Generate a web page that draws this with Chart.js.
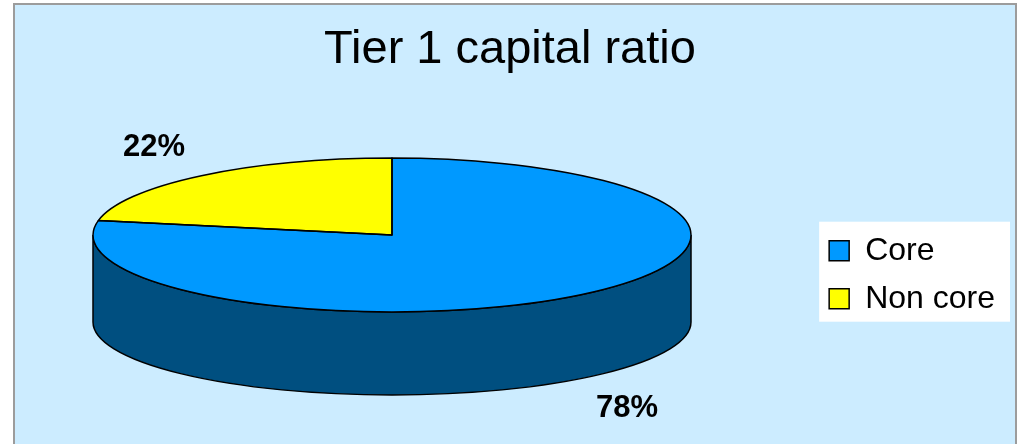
<!DOCTYPE html>
<html>
<head>
<meta charset="utf-8">
<title>Tier 1 capital ratio</title>
<script src="https://cdn.jsdelivr.net/npm/chart.js@4.4.1/dist/chart.umd.min.js"></script>
<style>
html, body { margin: 0; padding: 0; background: #fff; }
canvas { display: block; }
</style>
</head>
<body>
<canvas id="myChart" width="1020" height="444"></canvas>
<script>
var labels = ['Core', 'Non core'];
var values = [78, 22];
var topColors = ['#0099FF', '#FFFF00'];
var sideColors = ['#004F80', '#808000'];

Chart.defaults.font.family = '"Liberation Sans", Arial, sans-serif';
Chart.defaults.color = '#000';

// draws the pie as a tilted disc: squashes the library's arcs into an ellipse
// and adds the extruded side underneath
var pie3d = {
    id: 'pie3d',
    beforeDraw: function (chart, args, o) {
        var ctx = chart.ctx;
        ctx.save();
        ctx.fillStyle = '#CCECFF';
        ctx.fillRect(14, 4, 1002, 450);
        ctx.strokeStyle = '#9C9C9C';
        ctx.lineWidth = 2;
        ctx.strokeRect(14, 4, 1002, 450);

        // white panel behind the legend
        var lg = chart.legend;
        var hb = lg.legendHitBoxes;
        if (hb && hb.length) {
            var left = hb[0].left - 10;
            var top = hb[0].top - 13;
            var right = lg.right + 5;
            var last = hb[hb.length - 1];
            ctx.fillStyle = '#FFFFFF';
            ctx.fillRect(left, top, right - left, last.top + last.height + 7 - top);
        }
        ctx.restore();
    },
    beforeDatasetsDraw: function (chart, args, o) {
        var ctx = chart.ctx;
        var arcs = chart.getDatasetMeta(0).data;

        // side of the disc, only the front half is visible
        ctx.save();
        ctx.lineWidth = 1.5;
        ctx.strokeStyle = '#000';
        arcs.forEach(function (arc, i) {
            var p = arc.getProps(['startAngle', 'endAngle'], true);
            for (var k = -1; k <= 1; k++) {
                var lo = Math.max(p.startAngle, k * 2 * Math.PI);
                var hi = Math.min(p.endAngle, k * 2 * Math.PI + Math.PI);
                if (hi <= lo) continue;
                ctx.beginPath();
                ctx.ellipse(o.cx, o.cy, o.rx, o.ry, 0, lo, hi);
                ctx.ellipse(o.cx, o.cy + o.depth, o.rx, o.ryBottom, 0, hi, lo, true);
                ctx.closePath();
                ctx.fillStyle = sideColors[i];
                ctx.fill();
                ctx.stroke();
            }
        });
        ctx.restore();

        // top face: let the library draw its arcs through a squashing transform
        var a = arcs[0].getProps(['x', 'y', 'outerRadius'], true);
        ctx.save();
        ctx.translate(o.cx, o.cy);
        ctx.scale(o.rx / a.outerRadius, o.ry / a.outerRadius);
        ctx.translate(-a.x, -a.y);
    },
    afterDatasetsDraw: function (chart, args, o) {
        var ctx = chart.ctx;
        ctx.restore();

        var arcs = chart.getDatasetMeta(0).data;
        ctx.save();
        ctx.lineWidth = 1.5;
        ctx.strokeStyle = '#000';
        ctx.lineJoin = 'round';
        arcs.forEach(function (arc) {
            var p = arc.getProps(['startAngle', 'endAngle'], true);
            ctx.beginPath();
            ctx.moveTo(o.cx, o.cy);
            ctx.ellipse(o.cx, o.cy, o.rx, o.ry, 0, p.startAngle, p.endAngle);
            ctx.closePath();
            ctx.stroke();
        });

        // percentage labels
        ctx.fillStyle = '#000';
        ctx.font = 'bold 31px "Liberation Sans", Arial, sans-serif';
        ctx.textAlign = 'center';
        ctx.textBaseline = 'middle';
        values.forEach(function (v, i) {
            ctx.fillText(v + '%', o.labelPos[i][0], o.labelPos[i][1]);
        });
        ctx.restore();
    }
};

var ctx = document.getElementById('myChart').getContext('2d');

var data = {
    labels: labels,
    datasets: [{
        data: values,
        backgroundColor: topColors,
        borderWidth: 0,
        clip: false
    }]
};

var options = {
    responsive: false,
    animation: false,
    events: [],
    layout: {
        padding: { left: 15, right: 15, top: 0, bottom: 0 }
    },
    plugins: {
        title: {
            display: true,
            text: 'Tier 1 capital ratio',
            color: '#000',
            font: { size: 47, weight: 'normal' },
            padding: { top: 22, bottom: 27 }
        },
        legend: {
            position: 'right',
            fullSize: false,
            labels: {
                boxWidth: 20,
                boxHeight: 20,
                padding: 16,
                color: '#000',
                font: { size: 32 },
                generateLabels: function (chart) {
                    var base = (Chart.overrides.pie || Chart.overrides.doughnut).plugins.legend.labels.generateLabels;
                    var items = base(chart);
                    items.forEach(function (it) {
                        it.strokeStyle = '#000';
                        it.lineWidth = 1.5;
                    });
                    return items;
                }
            }
        },
        tooltip: { enabled: false },
        pie3d: {
            cx: 392,
            cy: 235,
            rx: 299,
            ry: 77,
            ryBottom: 73,
            depth: 87,
            labelPos: [[627, 408], [154, 147]]
        }
    }
};

var chart2 = new Chart(ctx, {
    type: 'pie',
    data: data,
    options: options,
    plugins: [pie3d]
});
</script>
</body>
</html>
